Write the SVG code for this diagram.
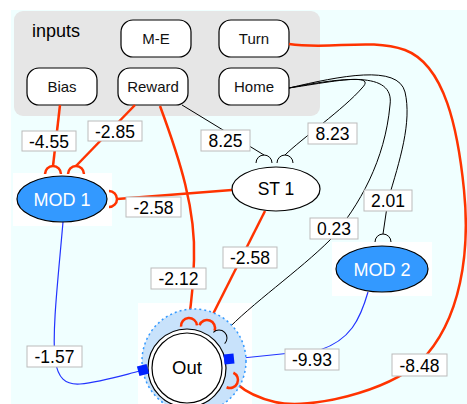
<svg xmlns="http://www.w3.org/2000/svg" xmlns:xlink="http://www.w3.org/1999/xlink" width="467" height="404" viewBox="0 0 467 404">
<defs>
<style>
text{font-family:"Liberation Sans",Arial,sans-serif;text-anchor:middle}
.inp rect{fill:#fff;stroke:#000;stroke-width:1.2}
.inp text{font-size:15px;fill:#111}
.r{fill:none;stroke:#ff3300;stroke-width:2.5}
.k{fill:none;stroke:#000;stroke-width:1}
.b{fill:none;stroke:#2233ff;stroke-width:1.2}
.lbl rect{fill:#fff;stroke:#bbb;stroke-width:1}
.lbl text{font-size:17.5px;fill:#000}
.mod ellipse{fill:#3399ff;stroke:#000;stroke-width:1.2}
.mod text{font-size:18px;fill:#fff}
.sq{fill:#0022ff}
</style>
<path id="cup" d="M-8,0 A8,8 0 0 1 8,0"/>
</defs>
<rect width="467" height="404" fill="#fff"/>
<rect x="11" y="10" width="456" height="394" fill="#f0ffff"/>
<g id="inputs">
<rect x="14" y="11" width="306" height="105" rx="9" fill="#e6e6e6"/>
<text x="56" y="37" style="font-size:18px">inputs</text>
</g>
<g id="node-ME" class="inp"><rect x="121" y="20" width="70" height="37" rx="12"/><text x="156" y="44">M-E</text></g>
<g id="node-Turn" class="inp"><rect x="219" y="20" width="70" height="37" rx="12"/><text x="254" y="44">Turn</text></g>
<g id="node-Bias" class="inp"><rect x="27" y="68" width="70" height="37" rx="12"/><text x="62" y="92">Bias</text></g>
<g id="node-Reward" class="inp"><rect x="118" y="68" width="70" height="37" rx="12"/><text x="153" y="92">Reward</text></g>
<g id="node-Home" class="inp"><rect x="219" y="68" width="70" height="37" rx="12"/><text x="254" y="92">Home</text></g>
<rect x="13" y="173" width="99" height="53" fill="#fff"/>
<rect x="332" y="242" width="100" height="54" fill="#fff"/>
<rect x="138" y="303" width="114" height="101" fill="#fff"/>
<g id="connectors">
<path class="r" d="M60,105 L53,166"/>
<path class="r" d="M135,105 L76,166"/>
<path class="r" d="M232,190 L117,199"/>
<path class="r" d="M160,106 C180,160 196,210 194,260 C193,290 191,305 189,318"/>
<path class="r" d="M265,211 L210,320"/>
<path class="r" d="M289,44 C330,50 370,38 405,50 C445,65 458,130 464,190 C470,250 462,320 420,362 C385,392 310,410 275,402 C258,398 246,392 237,384"/>
<path class="k" d="M182,105 L264,155"/>
<path class="k" d="M289,88 C330,82 378,72 362,88 C345,108 300,140 285,155"/>
<path class="k" d="M289,88 C340,78 395,70 390,105 C385,160 360,205 330,240 C300,270 250,305 225,332"/>
<path class="k" d="M289,88 C340,76 398,64 405,92 C412,122 400,160 388,200 L383,234"/>
<path class="b" d="M63,222 C58,280 52,330 55,360 C58,378 65,385 80,384 C100,382 120,376 140,371"/>
<path class="b" d="M368,292 C360,320 350,340 320,350 L233,359"/>
<use xlink:href="#cup" class="r" transform="translate(53,174)"/>
<use xlink:href="#cup" class="r" transform="translate(76,174)"/>
<use xlink:href="#cup" class="r" transform="translate(109,199) rotate(90)"/>
<use xlink:href="#cup" class="k" transform="translate(264,163)"/>
<use xlink:href="#cup" class="k" transform="translate(285,163)"/>
<use xlink:href="#cup" class="k" transform="translate(383,242)"/>
</g>
<g id="node-MOD1" class="mod"><ellipse cx="62" cy="199" rx="45" ry="23"/><text x="62" y="206">MOD 1</text></g>
<g id="node-ST1"><ellipse cx="276" cy="189" rx="44" ry="22" fill="#fff" stroke="#000" stroke-width="1.2"/><text x="276" y="195" style="font-size:17.5px">ST 1</text></g>
<g id="node-MOD2" class="mod"><ellipse cx="382" cy="269" rx="46" ry="23"/><text x="382" y="276">MOD 2</text></g>
<g id="node-Out">
<circle cx="194" cy="361" r="52" fill="#c8e2fb" stroke="#3399ff" stroke-width="1.5" stroke-dasharray="2,3"/>
<circle cx="187" cy="368" r="39" fill="#fff" stroke="#000" stroke-width="1.2"/>
<circle cx="187" cy="368" r="35" fill="#fff" stroke="#000" stroke-width="1.2"/>
<text x="187" y="374" style="font-size:18.5px">Out</text>
</g>
<g id="out-terminals">
<use xlink:href="#cup" class="r" transform="translate(189,326) rotate(-5)"/>
<use xlink:href="#cup" class="r" transform="translate(207,328) rotate(20)"/>
<use xlink:href="#cup" class="k" transform="translate(219,338) rotate(45)"/>
<use xlink:href="#cup" class="r" transform="translate(230,380) rotate(115)"/>
<rect class="sq" x="138" y="365" width="10" height="10" transform="rotate(-15 143 370)"/>
<rect class="sq" x="224" y="354" width="10" height="10" transform="rotate(-6 229 359)"/>
</g>
<g id="labels" class="lbl">
<rect x="22" y="131" width="54" height="20"/><text x="49" y="148">-4.55</text>
<rect x="88" y="121" width="54" height="20"/><text x="115" y="138">-2.85</text>
<rect x="201" y="130" width="49" height="21"/><text x="225.5" y="147">8.25</text>
<rect x="308" y="123" width="49" height="21"/><text x="332.5" y="140">8.23</text>
<rect x="126" y="197" width="55" height="20"/><text x="153.5" y="214">-2.58</text>
<rect x="364" y="190" width="48" height="21"/><text x="388" y="207">2.01</text>
<rect x="310" y="218" width="48" height="21"/><text x="334" y="235">0.23</text>
<rect x="223" y="247" width="54" height="21"/><text x="250" y="264">-2.58</text>
<rect x="151" y="268" width="55" height="21"/><text x="178.5" y="285">-2.12</text>
<rect x="27" y="346" width="55" height="21"/><text x="54.5" y="363">-1.57</text>
<rect x="285" y="349" width="54" height="21"/><text x="312" y="366">-9.93</text>
<rect x="392" y="354" width="55" height="22"/><text x="419.5" y="372">-8.48</text>
</g>
</svg>
